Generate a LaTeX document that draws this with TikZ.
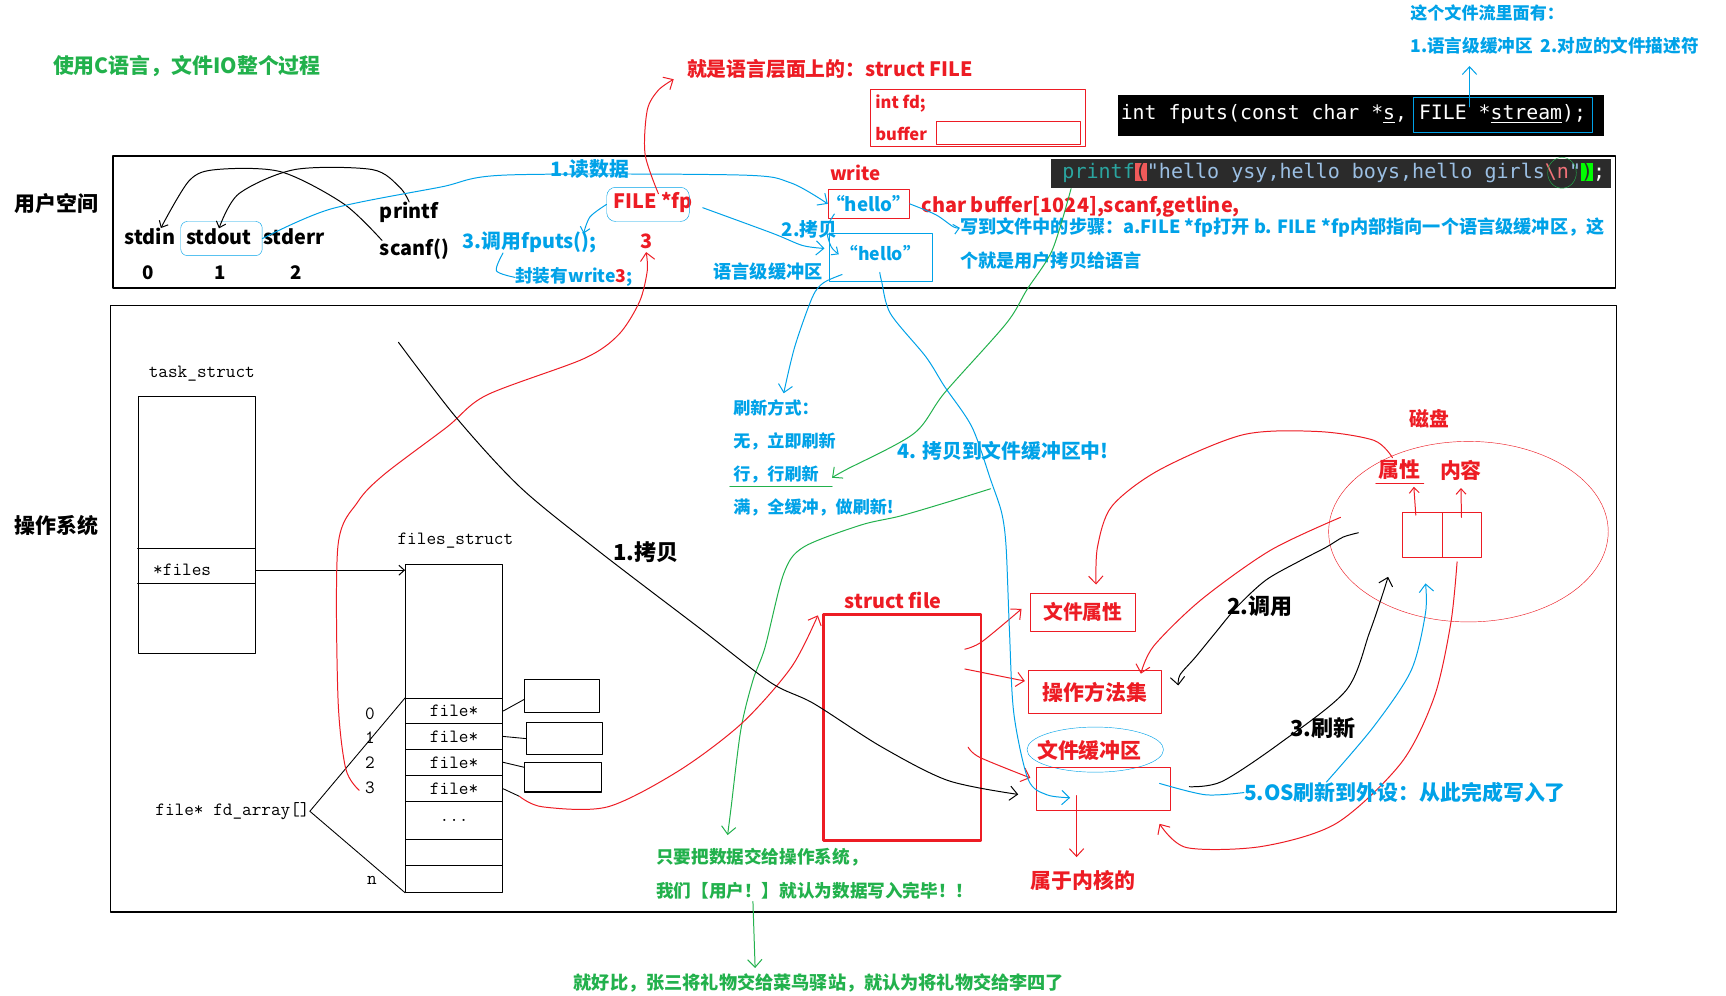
\documentclass[tikz,border=0pt]{standalone}
\usepackage{fontspec}
\setmainfont{Noto Sans CJK SC}
\newfontfamily\codefont{DejaVu Sans Mono}
\usetikzlibrary{arrows.meta,shapes.geometric,calc}
\definecolor{pred}{HTML}{ED1C24}
\definecolor{pblue}{HTML}{00A2E8}
\definecolor{pgreen}{HTML}{22B14C}
\definecolor{codebg}{HTML}{2B2B2B}
\definecolor{pteal}{HTML}{2AA5A0}
\definecolor{pstr}{HTML}{9BBFE3}
\definecolor{pesc}{HTML}{F07178}
\definecolor{codered}{HTML}{F05A5A}
\definecolor{codegreen}{HTML}{00FF00}
\newcommand\fsz[1]{\fontsize{#1}{#1}\selectfont}
\begin{document}
\begin{tikzpicture}[x=1pt,y=-1pt, line cap=round, line join=round,
 tx/.style={inner sep=0pt, anchor=west, font=\bfseries\fsz{#1}},
 tc/.style={inner sep=0pt, anchor=center, font=\bfseries\fsz{#1}},
 tt/.style={inner sep=0pt, anchor=west, font=\ttfamily\fsz{17}},
 ix/.style={inner sep=0pt, anchor=center, font=\ttfamily\fsz{17}},
 box/.style={draw, inner sep=0pt, anchor=north west},
 row/.style={draw, line width=1pt, minimum width=88, inner sep=0pt, anchor=north west, font=\ttfamily\fsz{17}},
 harr/.style={-{Straight Barb[length=7pt,width=13pt]}},
 sarr/.style={-{Straight Barb[length=5pt,width=9pt]}},
 pen/.style={line width=0.9pt},
]
\useasboundingbox (0,0) rectangle (1568,904);
\fill[white] (0,0) rectangle (1568,904);

% ---------- frames
\node[box, line width=1.2pt, minimum width=1365, minimum height=120] (ubox) at (102,141) {};
\node[box, line width=1.2pt, minimum width=1368, minimum height=551] (osbox) at (100,277) {};

% ---------- top texts
\node[tx=19, text=pgreen] (title) at (48,60) {使用C语言，文件IO整个过程};
\node[tx=18, text=pred] (flabel) at (624,63) {就是语言层面上的：struct FILE};
\node[box, draw=pred, minimum width=196, minimum height=52] (sFILE) at (790,81) {};
\node[tx=15, text=pred] (intfd) at (795,94) {int fd;};
\node[tx=15, text=pred] (bufl) at (795,122) {buffer};
\node[box, draw=pred, minimum width=131, minimum height=21] (bufin) at (850,110) {};

\node[box, fill=black, draw=none, minimum width=442, minimum height=37] (codebox) at (1015,86) {};
\node[inner sep=0pt, anchor=west, text=white, font=\codefont\fsz{18}] (fputs) at (1018,104) {int fputs(const char *\underline{s}, FILE *\underline{stream});};
\node[box, draw=pblue, minimum width=162, minimum height=32] (streambox) at (1284,88) {};
\node[tx=15.5, text=pblue] (liu1) at (1281,12) {这个文件流里面有：};
\node[tx=16, text=pblue] (liu2) at (1281,42) {1.语言级缓冲区\ \ 2.对应的文件描述符};
\coordinate (sa) at ($(streambox.north west)+(51,9)$);
\draw[pblue, pen, harr, shorten >=10pt] (sa) -- (sa |- liu2.south);

% ---------- user space
\node[tx=19] (yhkj) at (13,185) {用户空间};
\node[tx=18] (stdin) at (113,215) {stdin};
\node[tx=18] (stdout) at (169,215) {stdout};
\node[tx=18] (stderr) at (239,215) {stderr};
\node[tc=17] (d0) at (135,248) {0};
\node[tc=17] (d1) at (200,248) {1};
\node[tc=17] (d2) at (269,248) {2};
\node[tx=18] (printf) at (345,193) {printf};
\node[tx=18] (scanf) at (345,226) {scanf()};
\node[box, draw=pblue, rounded corners=6pt, minimum width=74, minimum height=31] (stdoutbox) at (164,201) {};

\draw[pen, sarr] plot[smooth] coordinates {($(scanf.north west)+(2,2)$) (312,185) (255,156) (197,154) (172,164) ($(stdin.north)+(10,0)$)};
\draw[pen, sarr] plot[smooth] coordinates {(printf.north) (363,170) (338,154) (268,154) (217,176) (stdout.north)};

\node[tx=18, text=pblue] (dushuju) at (500,154) {1.读数据};
\node[tx=18, text=pred] (fp) at (557,184) {FILE *fp};
\node[box, draw=pblue, rounded corners=8pt, minimum width=75, minimum height=31] (fpbox) at (551,170) {};
\node[tx=18, text=pblue] (callfputs) at (420,220) {3.调用fputs();};
\node[tc=18, text=pred] (red3) at (587,219) {3};
\node[tx=16, text=pblue] (fz) at (468,252) {封装有write{\color{pred}3};};
\node[tx=17, text=pred] (write) at (754,157) {write};
\node[box, draw=pred, minimum width=74, minimum height=26] (hellobox) at (752,172) {};
\node[tc=17, text=pblue] (hello1) at (hellobox.center) {“hello”};
\node[tx=18, text=pred] (charbuf) at (837,188) {char buffer[1024],scanf,getline,};
\node[tx=17, text=pblue] (kaobei2) at (710,208) {2.拷贝};
\node[box, draw=pblue, minimum width=94, minimum height=43] (hello2box) at (753,212) {};
\node[tc=16, text=pblue] (hello2) at (800,230) {“hello”};
\node[tx=16.5, text=pblue] (yyj) at (648,247) {语言级缓冲区};
\node[tx=16.5, text=pblue] (xie) at (872,207) {写到文件中的步骤：a.FILE *fp打开 b. FILE *fp内部指向一个语言级缓冲区，这};
\node[tx=16.5, text=pblue] (ge) at (872,237) {个就是用户拷贝给语言};

\draw[pblue, pen, harr] plot[smooth] coordinates {(stdoutbox.east) (300,190) (400,170) (460,159) (672,159) (718,166) (hellobox.west)};
\draw[pred, pen, harr] plot[smooth] coordinates {($(fp.center)+(5,-8)$) (586,140) (588,100) (598,82) ($(flabel.west)+(-12,9)$)};
\draw[pblue, pen, sarr] plot[smooth] coordinates {(fpbox.west) (536,197) ($(callfputs.north east)+(-12,2)$)};
\draw[pblue, pen] plot[smooth] coordinates {($(callfputs.south west)+(37,0)$) (451,246) (fz.west)};
\draw[pblue, pen, harr] plot[smooth] coordinates {($(fpbox.east)+(12,3)$) (702,212) (729,223) ($(hello2box.west)+(-4,-8)$)};
\draw[pblue, pen, sarr] plot[smooth] coordinates {($(hellobox.south west)+(6,-4)$) (751,208) (755,224) ($(hello2box.north west)+(9,19)$)};
\draw[pblue, pen, sarr] plot[smooth] coordinates {(hellobox.east) (850,195) (866,206) (xie.west)};

% printf code line
\node[box, fill=codebg, draw=none, minimum width=508, minimum height=27] (pfbox) at (955,144) {};
\node[inner sep=0pt, anchor=west, font=\codefont\fsz{18.2}] (pfcode) at (965,157) {\fboxsep=0pt\color{pteal}printf\colorbox{codered}{\color{codebg}(}\color{pstr}"hello ysy,hello boys,hello girls\color{pesc}\textbackslash n\color{pstr}"\colorbox{codegreen}{\color{codebg})}\color{white};};
\node[draw=pgreen, ellipse, minimum width=26, minimum height=28, inner sep=0pt] (nl) at (1419,157) {};

% ---------- flush texts
\node[tx=15.5, text=pblue] (sxfs) at (666,371) {刷新方式：};
\node[tx=15.5, text=pblue] (wu) at (666,401) {无，立即刷新};
\node[tx=15.5, text=pblue] (hang) at (666,431) {行，行刷新};
\node[tx=15.5, text=pblue] (man) at (666,461) {满，全缓冲，做刷新!};
\draw[pgreen, pen] ($(hang.south west)+(-3,3)$) -- ($(hang.south east)+(12,3)$);
\node[tx=18, text=pblue] (k4) at (815,410) {4. 拷贝到文件缓冲区中!};

\draw[pgreen, pen, harr] plot[smooth] coordinates {($(pfbox.south west)+(18,0)$) (956,227) (933,263) (914,294) (858,357) (830,394) (768,427) ($(hang.east)+(12,3)$)};
\draw[pblue, pen, harr] plot[smooth] coordinates {($(hello2box.south west)+(12,-6)$) (748,257) (738,270) (722,315) ($(sxfs.north)+(7,-6)$)};

% ---------- green notes
\node[tx=16, text=pgreen] (zhiyao) at (596,779) {只要把数据交给操作系统，};
\node[tx=16, text=pgreen] (women) at (596,809) {我们【用户！】就认为数据写入完毕！！};
\node[tx=16.5, text=pgreen] (haobi) at (521,893) {就好比，张三将礼物交给菜鸟驿站，就认为将礼物交给李四了};
\coordinate (g2s) at (900,444);
\draw[pgreen, pen, harr] plot[smooth] coordinates {(g2s) (858,457) (817,469) (782,477) (730,497) (712,521) (695,588) (684,618) (673,663) (664,735) ($(zhiyao.north west)+(65,-12)$)};
\draw[pgreen, pen, harr] ($(women.south west)+(88,2)$) -- ($(haobi.north west)+(165,-5)$);

% ---------- OS: task_struct / files_struct
\node[tx=19] (czxt) at (13,477) {操作系统};
\node[tt] (tsl) at (135,339) {task\_struct};
\node[box, minimum width=107, minimum height=233, line width=1pt] (ts) at (125,360) {};
\draw[line width=1pt] (125,498) -- (232,498);
\draw[line width=1pt] (125,530) -- (232,530);
\node[tt] (files) at (139,518) {*files};
\node[tt] (fsl) at (361,491) {files\_struct};
\node[box, minimum width=88, minimum height=122, line width=1pt] (fs) at (368,512) {};
\draw[pen, sarr] (ts.east |- files) -- (fs.north west |- files);
\node[row, minimum height=23] (r0) at (368,634) {file*};
\node[row, minimum height=23] (r1) at (368,657) {file*};
\node[row, minimum height=24] (r2) at (368,680) {file*};
\node[row, minimum height=24] (r3) at (368,704) {file*};
\node[row, minimum height=34] (rd) at (368,728) {...};
\node[row, minimum height=24] (r5) at (368,762) {};
\node[row, minimum height=24] (r6) at (368,786) {};
\node[ix] (i0) at (336,648) {0};
\node[ix] (i1) at (336,670) {1};
\node[ix] (i2) at (336,693) {2};
\node[ix] (i3) at (336,716) {3};
\node[ix] (in) at (338,800) {n};
\node[tt] (fda) at (141,737) {file* fd\_array[]};
\draw[line width=0.8pt] (fda.east) -- (r0.north west);
\draw[line width=0.8pt] (fda.east) -- (r6.south west);
\node[box, line width=1pt, minimum width=68, minimum height=30] (sb0) at (476,617) {};
\node[box, line width=1pt, minimum width=69, minimum height=29] (sb1) at (478,656) {};
\node[box, line width=1pt, minimum width=70, minimum height=27] (sb2) at (476,692) {};
\draw[line width=0.8pt] (r0.east) -- ($(sb0.west)+(0,3)$);
\draw[line width=0.8pt] (r1.east) -- (sb1.west);
\draw[line width=0.8pt] (r2.east) -- ($(sb2.north west)+(0,5)$);
\coordinate (r3e) at ($(r3.east)+(15,7)$);
\draw[line width=0.8pt] (r3.east) -- (r3e);

% ---------- struct file and kernel parts
\node[box, draw=pred, line width=2.5pt, minimum width=143, minimum height=205] (sfile) at (747,557) {};
\node[tx=18, text=pred] (sfl) at (767,545) {struct file};
\node[box, draw=pred, minimum width=95, minimum height=34, text=pred, font=\bfseries\fsz{18}] (wjsx) at (936,539) {文件属性};
\node[box, draw=pred, minimum width=121, minimum height=39, text=pred, font=\bfseries\fsz{19}] (czff) at (934,609) {操作方法集};
\node[tx=19, text=pred] (wjhc) at (942,682) {文件缓冲区};
\node[draw=pblue, ellipse, minimum width=124, minimum height=41, inner sep=0pt] (hcell) at (995,681) {};
\node[box, draw=pred, minimum width=122, minimum height=39] (fbufbox) at (941,697) {};
\node[tx=19, text=pred] (neihe) at (936,800) {属于内核的};
\draw[pred, pen, harr] ($(fbufbox.west)+(37,6)$) -- ($(neihe.north west)+(42,-12)$);

\draw[pred, pen, harr] plot[smooth] coordinates {($(i3.west)+(-5,2)$) (314,698) (307,633) (307,496) (325,456) (349,431) (406,388) (442,359) (530,326) (562,304) (581,274) (588,246) ($(red3.south)+(0,3)$)};
\draw[pred, pen, harr] plot[smooth] coordinates {(r3e) (493,733) (552,733) (617,700) (674,657) (719,606) ($(sfile.north west)+(-4,2)$)};
\draw[pred, pen, harr] plot[smooth] coordinates {($(sfile.east)+(-16,-71)$) (892,583) ($(wjsx.west)+(-8,-3)$)};
\draw[pred, pen, harr] plot[smooth] coordinates {($(sfile.east)+(-16,-53)$) ($(czff.west)+(-3,-10)$)};
\draw[pred, pen, harr] plot[smooth] coordinates {($(sfile.east)+(-13,18)$) (890,688) ($(fbufbox.west)+(-5,-10)$)};

\coordinate (c1s) at (362,311);
\draw[pen, harr] plot[smooth] coordinates {(c1s) (415,380) (473,443) (543,500) (636,571) (700,620) (739,639) (800,678) (861,709) ($(fbufbox.west)+(-16,5)$)};
\node[tx=20] (kb1) at (557,502) {1.拷贝};

\draw[pblue, pen, harr] plot[smooth] coordinates {($(hello2box.south)+(-1,-8)$) (801,256) (809,285) (841,324) (858,351) (883,388) (900,436) (910,466) (914,497) (917,572) (921,648) (934,708) (951,722) ($(fbufbox.center)+(-30,8)$)};

% ---------- disk
\node[draw=pred, ellipse, minimum width=254, minimum height=164, inner sep=0pt] (disk) at (1334,483) {};
\node[tx=18, text=pred] (cipan) at (1280,380) {磁盘};
\node[tx=19, text=pred] (shuxing) at (1252,427) {属性};
\node[tx=19, text=pred] (neirong) at (1308,427) {内容};
\draw[pred, pen] ($(shuxing.south west)+(-2,3)$) -- ($(shuxing.south east)+(3,3)$);
\node[box, draw=pred, minimum width=36, minimum height=41] (cellA) at (1274,465) {};
\node[box, draw=pred, minimum width=35, minimum height=41] (cellB) at (1310,465) {};
\draw[pred, pen, sarr] ($(cellA.north)+(-6,3)$) -- ($(shuxing.south east)+(-6,6)$);
\draw[pred, pen, sarr] ($(cellB.north)+(0,5)$) -- ($(neirong.south)+(0,7)$);

\draw[pred, pen, harr] plot[smooth] coordinates {($(shuxing.north west)+(13,-2)$) (1248,400) (1197,392) (1129,395) (1053,427) (1010,460) (997,497) ($(wjsx.north)+(12,-8)$)};
\draw[pred, pen, harr] plot[smooth] coordinates {($(disk.west)+(11,-13)$) (1154,500) (1091,545) (1048,587) ($(czff.north east)+(-19,3)$)};
\draw[pred, pen, harr] plot[smooth] coordinates {($(cellB.south)+(-4,4)$) (1318,566) (1303,633) (1273,693) (1214,748) (1146,769) (1078,770) ($(fbufbox.south east)+(-10,12)$)};

\draw[pen, harr] plot[smooth] coordinates {($(disk.center)+(-100,1)$) (1220,488) (1205,497) (1180,510) (1150,527) (1124,551) (1104,575) (1086,597) (1072,613) ($(czff.east)+(15,-6)$)};
\node[tx=20] (dy) at (1115,551) {2.调用};
\draw[pen, harr] plot[smooth] coordinates {($(fbufbox.east)+(17,-2)$) (1110,710) (1163,675) (1223,627) (1244,575) (1256,540) ($(disk.center)+(-73,41)$)};
\node[tx=20] (sx3) at (1172,661) {3.刷新};

\node[tx=19, text=pblue] (os5) at (1130,720) {5.OS刷新到外设：从此完成写入了};
\draw[pblue, pen] plot[smooth] coordinates {($(fbufbox.east)+(-10,-5)$) (1095,722) (os5.west)};
\draw[pblue, pen, harr] plot[smooth] coordinates {($(os5.north west)+(75,0)$) (1248,660) (1282,609) (1295,557) ($(disk.center)+(-39,47)$)};
\end{tikzpicture}
\end{document}
